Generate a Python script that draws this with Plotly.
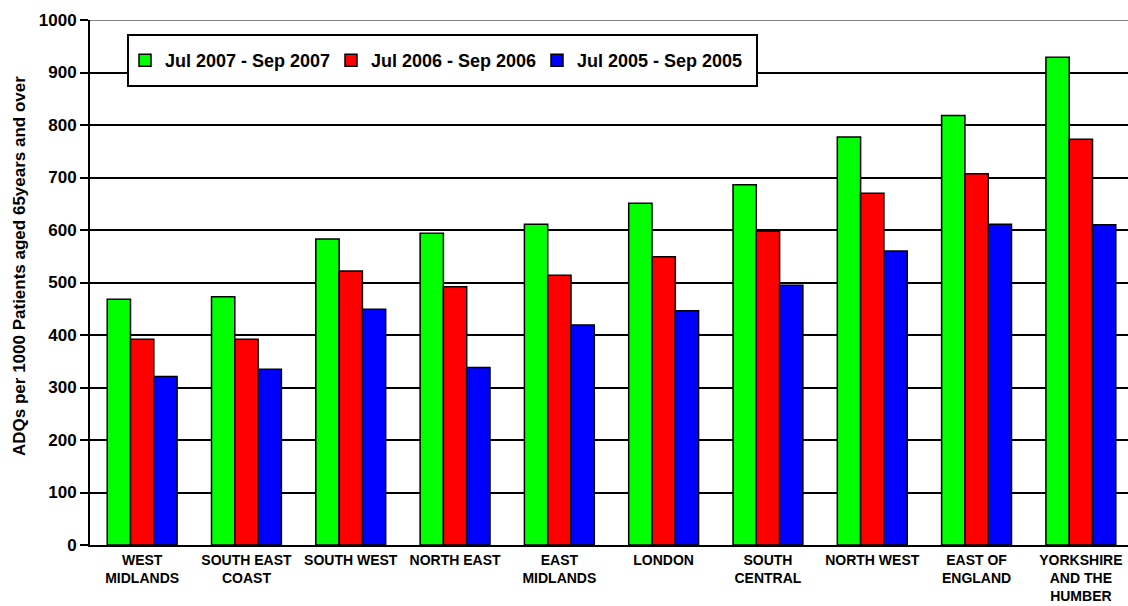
import plotly.graph_objects as go

regions = ["WEST<br>MIDLANDS", "SOUTH EAST<br>COAST", "SOUTH WEST", "NORTH EAST",
           "EAST<br>MIDLANDS", "LONDON", "SOUTH<br>CENTRAL", "NORTH WEST",
           "EAST OF<br>ENGLAND", "YORKSHIRE<br>AND THE<br>HUMBER"]
jul2007 = [468, 473, 583, 594, 611, 651, 686, 777, 818, 929]
jul2006 = [392, 392, 522, 492, 514, 549, 598, 670, 707, 773]
jul2005 = [321, 335, 449, 338, 419, 446, 495, 560, 611, 610]
series_names = ["Jul 2007 - Sep 2007", "Jul 2006 - Sep 2006", "Jul 2005 - Sep 2005"]
colors = ["#00FF00", "#FF0000", "#0000FF"]
yticks = [0, 100, 200, 300, 400, 500, 600, 700, 800, 900, 1000]

FONT = "Liberation Sans, Arial, sans-serif"
fig = go.Figure()
for name, vals, c in zip(series_names, [jul2007, jul2006, jul2005], colors):
    fig.add_trace(go.Bar(x=list(range(len(regions))), y=vals, name=name,
                         marker=dict(color=c, line=dict(color="black", width=1.5))))

# plot area: x 90..1128 (1038 px), y 20..545 (525 px)
def px_x(p):
    return (p - 90) / 1038.0

def px_y(p):
    return (545 - p) / 525.0

fig.update_layout(
    width=1128, height=606,
    margin=dict(l=90, r=0, t=20, b=61),
    paper_bgcolor="white", plot_bgcolor="white",
    barmode="group", bargap=0.33, bargroupgap=0,
    font=dict(family=FONT, color="black"),
    showlegend=True,
    legend=dict(orientation="h", x=px_x(125), y=px_y(60.5), xanchor="left", yanchor="middle",
                borderwidth=0, bgcolor="rgba(0,0,0,0)", itemwidth=30,
                entrywidth=161, entrywidthmode="pixels",
                font=dict(size=18, family=FONT, weight="bold"),
                traceorder="normal"),
    xaxis=dict(tickmode="array", tickvals=list(range(len(regions))), ticktext=regions,
               range=[-0.5, 9.452], showgrid=False, showline=True, linecolor="black",
               linewidth=2, ticks="", tickfont=dict(size=14, family=FONT, weight="bold"),
               ticklabelstandoff=1, zeroline=False, automargin=False),
    yaxis=dict(range=[0, 1000], tickvals=yticks, showgrid=True, gridcolor="black",
               gridwidth=1.5, showline=True, linecolor="black", linewidth=2,
               ticks="outside", ticklen=8, tickwidth=1.5, tickcolor="black",
               tickfont=dict(size=17, family=FONT, weight="bold"), zeroline=False,
               automargin=False),
)
fig.add_annotation(text="ADQs per 1000 Patients aged 65years and over",
                   xref="paper", yref="paper", x=px_x(19), y=px_y(266),
                   xanchor="center", yanchor="middle", textangle=-90, showarrow=False,
                   font=dict(size=17, family=FONT, weight="bold", color="black"))
fig.add_shape(type="line", xref="paper", yref="y", x0=0, x1=1, y0=1000, y1=1000,
              line=dict(color="#808080", width=2))
fig.add_shape(type="rect", xref="paper", yref="paper",
              x0=px_x(128), x1=px_x(757), y0=px_y(86), y1=px_y(35),
              line=dict(color="black", width=2), fillcolor="white", layer="above")
fig.write_html("out.html")
